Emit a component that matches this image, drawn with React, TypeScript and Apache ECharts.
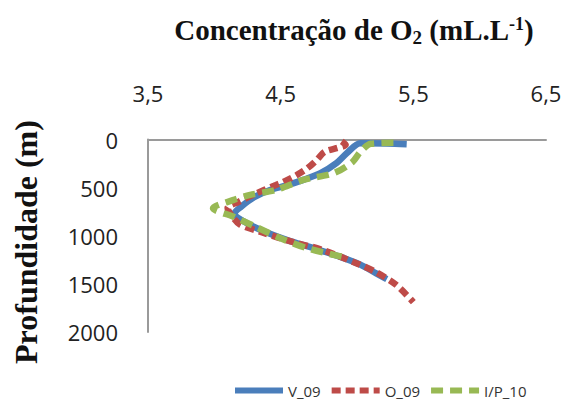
import React, { useEffect, useRef } from "react";
import * as echarts from "echarts";

const xTicks = [3.5, 4.5, 5.5, 6.5];
const depthTicks = [0, 500, 1000, 1500, 2000];
const seriesNames = ["V_09", "O_09", "I/P_10"];

// [concentration, depth]
const v09: [number, number][] = [
  [5.45, 50], [5.3, 42], [5.1, 40], [5.0, 140], [4.92, 245], [4.8, 350], [4.67, 420],
  [4.55, 475], [4.42, 525], [4.3, 600], [4.2, 700], [4.15, 770], [4.22, 850],
  [4.35, 940], [4.55, 1045], [4.75, 1130], [4.95, 1220], [5.1, 1300], [5.22, 1390], [5.3, 1450],
];
const o09: [number, number][] = [
  [4.96, 20], [4.99, 55], [4.92, 90], [4.83, 130], [4.77, 215], [4.7, 300], [4.62, 370],
  [4.52, 440], [4.45, 480], [4.3, 570], [4.18, 650], [4.1, 710], [4.12, 770], [4.19, 880],
  [4.35, 960], [4.6, 1070], [4.8, 1140], [5.07, 1285], [5.22, 1380], [5.37, 1510], [5.5, 1690],
];
const ip10: [number, number][] = [
  [5.35, 35], [5.18, 45], [5.1, 130], [5.04, 235], [4.9, 350], [4.67, 420], [4.46, 525],
  [4.27, 575], [4.14, 630], [3.99, 715], [4.14, 800], [4.3, 900], [4.49, 1020],
  [4.7, 1130], [4.97, 1220],
];

const colors = ["#4a7ebb", "#be4b48", "#98b954"];
const lineTypes: any[] = ["solid", [9, 5], [12, 7]];
const datasets = [v09, o09, ip10];

export default function App() {
  const ref = useRef<HTMLDivElement>(null);
  useEffect(() => {
    const chart = echarts.init(ref.current!, null, { renderer: "svg" });
    const serif = "Liberation Serif";
    chart.setOption({
      animation: false,
      backgroundColor: "#ffffff",
      title: {
        text: "{a|Concentração de O}{s|2}{a| (mL.L}{p|-1}{a|)}",
        left: 349,
        textAlign: "center",
        top: 7,
        textStyle: {
          rich: {
            a: { fontFamily: serif, fontWeight: "bold", fontSize: 29, color: "#111", lineHeight: 36, verticalAlign: "middle" },
            s: { fontFamily: serif, fontWeight: "bold", fontSize: 19, color: "#111", lineHeight: 36, padding: [15, 0, 0, 0] },
            p: { fontFamily: serif, fontWeight: "bold", fontSize: 18, color: "#111", lineHeight: 36, padding: [0, 0, 12, 0] },
          },
        },
      },
      graphic: [
        {
          type: "text",
          x: 26,
          y: 242,
          rotation: Math.PI / 2,
          style: {
            text: "Profundidade (m)",
            font: "bold 32px 'Liberation Serif'",
            fill: "#111",
            align: "center",
            verticalAlign: "middle",
          },
        },
      ],
      legend: {
        data: seriesNames,
        left: 232,
        top: 383,
        padding: 0,
        itemWidth: 48,
        itemHeight: 8,
        itemGap: 8,
        itemStyle: { opacity: 0 },
        lineStyle: { width: 6 },
        textStyle: { fontFamily: "Open Sans", fontSize: 15, color: "#333" },
      },
      grid: { left: 148, right: 19, top: 139.5, bottom: 71 },
      xAxis: {
        type: "value",
        position: "top",
        min: xTicks[0],
        max: xTicks[xTicks.length - 1],
        interval: 1,
        axisLine: { show: true, lineStyle: { color: "#9a9a9a", width: 2 } },
        axisTick: { show: false },
        splitLine: { show: false },
        axisLabel: {
          margin: 36,
          fontFamily: "Open Sans",
          fontSize: 22,
          color: "#222",
          formatter: (v: number) => v.toFixed(1).replace(".", ","),
        },
      },
      yAxis: {
        type: "value",
        inverse: true,
        min: depthTicks[0],
        max: depthTicks[depthTicks.length - 1],
        interval: 500,
        axisLine: { show: true, lineStyle: { color: "#9a9a9a", width: 2 } },
        axisTick: { show: false },
        splitLine: { show: false },
        axisLabel: { margin: 30, fontFamily: "Open Sans", fontSize: 22, color: "#222", formatter: (v: number) => String(v) },
      },
      series: datasets.map((d, i) => ({
        name: seriesNames[i],
        type: "line",
        data: d,
        smooth: 0.3,
        symbol: "none",
        color: colors[i],
        lineStyle: { color: colors[i], width: 6.5, type: lineTypes[i] },
      })),
    });
    return () => chart.dispose();
  }, []);
  return <div ref={ref} style={{ position: "absolute", left: 0, top: 0, width: 565, height: 403 }} />;
}
